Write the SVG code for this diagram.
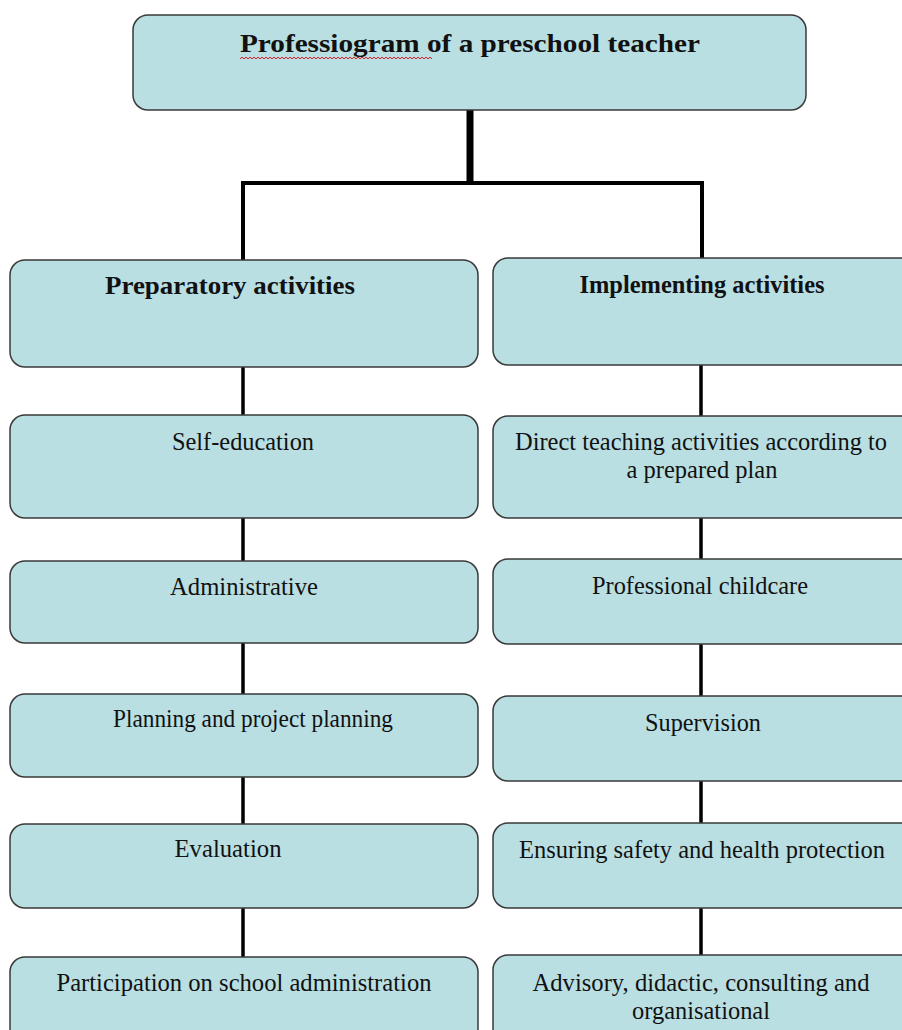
<svg xmlns="http://www.w3.org/2000/svg" width="902" height="1030" viewBox="0 0 902 1030">
<style>
.box{fill:#b9dfe3;stroke:#3a3a3a;stroke-width:1.5}
text{font-family:'Liberation Serif',Tinos,'Times New Roman',Times,serif;font-size:25.5px;fill:#111;text-anchor:middle}
.b{font-weight:bold}
.c{stroke:#000;fill:none;stroke-linecap:butt;stroke-linejoin:miter}
</style>
<rect x="0" y="0" width="902" height="1030" fill="#fff"/>
<g id="connectors">
<line class="c" x1="470" y1="110" x2="470" y2="185" stroke-width="7"/>
<polyline class="c" points="243,260 243,183 702,183 702,258" stroke-width="4"/>
<line class="c" x1="243" y1="367" x2="243" y2="415" stroke-width="3.5"/>
<line class="c" x1="243" y1="518" x2="243" y2="561" stroke-width="3.5"/>
<line class="c" x1="243" y1="643" x2="243" y2="694" stroke-width="3.5"/>
<line class="c" x1="243" y1="777" x2="243" y2="824" stroke-width="3.5"/>
<line class="c" x1="243" y1="908" x2="243" y2="957" stroke-width="3.5"/>
<line class="c" x1="701" y1="365" x2="701" y2="416" stroke-width="3.5"/>
<line class="c" x1="701" y1="518" x2="701" y2="559" stroke-width="3.5"/>
<line class="c" x1="701" y1="644" x2="701" y2="696" stroke-width="3.5"/>
<line class="c" x1="701" y1="781" x2="701" y2="823" stroke-width="3.5"/>
<line class="c" x1="701" y1="908" x2="701" y2="955" stroke-width="3.5"/>
</g>
<g id="title">
<rect class="box" x="133" y="15" width="673" height="95" rx="15"/>
<text class="b" x="470" y="52" font-size="30" textLength="460" lengthAdjust="spacingAndGlyphs">Professiogram of a preschool teacher</text>
<path d="M240,59 l2,-2 l2,2 l2,-2 l2,2 l2,-2 l2,2 l2,-2 l2,2 l2,-2 l2,2 l2,-2 l2,2 l2,-2 l2,2 l2,-2 l2,2 l2,-2 l2,2 l2,-2 l2,2 l2,-2 l2,2 l2,-2 l2,2 l2,-2 l2,2 l2,-2 l2,2 l2,-2 l2,2 l2,-2 l2,2 l2,-2 l2,2 l2,-2 l2,2 l2,-2 l2,2 l2,-2 l2,2 l2,-2 l2,2 l2,-2 l2,2 l2,-2 l2,2 l2,-2 l2,2 l2,-2 l2,2 l2,-2 l2,2 l2,-2 l2,2 l2,-2 l2,2 l2,-2 l2,2 l2,-2 l2,2 l2,-2 l2,2 l2,-2 l2,2 l2,-2 l2,2 l2,-2 l2,2 l2,-2 l2,2 l2,-2 l2,2 l2,-2 l2,2 l2,-2 l2,2 l2,-2 l2,2 l2,-2 l2,2 l2,-2 l2,2 l2,-2 l2,2 l2,-2 l2,2 l2,-2 l2,2 l2,-2 l2,2 l2,-2 l2,2 l2,-2 l2,2 l2,-2 l2,2" fill="none" stroke="#e02020" stroke-width="1"/>
</g>
<g id="preparatory">
<rect class="box" x="10" y="260" width="468" height="107" rx="15"/>
<text class="b" x="230" y="294" font-size="28" textLength="250" lengthAdjust="spacingAndGlyphs">Preparatory activities</text>
</g>
<g id="implementing">
<rect class="box" x="493" y="258" width="425" height="107" rx="15"/>
<text class="b" x="702" y="293" textLength="245" lengthAdjust="spacingAndGlyphs">Implementing activities</text>
</g>
<g id="self-education">
<rect class="box" x="10" y="415" width="468" height="103" rx="15"/>
<text x="243" y="450" textLength="142" lengthAdjust="spacingAndGlyphs">Self-education</text>
</g>
<g id="administrative">
<rect class="box" x="10" y="561" width="468" height="82" rx="15"/>
<text x="244" y="595" textLength="148" lengthAdjust="spacingAndGlyphs">Administrative</text>
</g>
<g id="planning">
<rect class="box" x="10" y="694" width="468" height="83" rx="15"/>
<text x="253" y="727" textLength="280" lengthAdjust="spacingAndGlyphs">Planning and project planning</text>
</g>
<g id="evaluation">
<rect class="box" x="10" y="824" width="468" height="84" rx="15"/>
<text x="228" y="857" textLength="107" lengthAdjust="spacingAndGlyphs">Evaluation</text>
</g>
<g id="participation">
<rect class="box" x="10" y="957" width="468" height="90" rx="15"/>
<text x="244" y="991" textLength="375" lengthAdjust="spacingAndGlyphs">Participation on school administration</text>
</g>
<g id="direct-teaching">
<rect class="box" x="493" y="416" width="425" height="102" rx="15"/>
<text x="701" y="450" textLength="372" lengthAdjust="spacingAndGlyphs">Direct teaching activities according to</text>
<text x="702" y="478" textLength="151" lengthAdjust="spacingAndGlyphs">a prepared plan</text>
</g>
<g id="childcare">
<rect class="box" x="493" y="559" width="425" height="85" rx="15"/>
<text x="700" y="594" textLength="216" lengthAdjust="spacingAndGlyphs">Professional childcare</text>
</g>
<g id="supervision">
<rect class="box" x="493" y="696" width="425" height="85" rx="15"/>
<text x="703" y="731" textLength="116" lengthAdjust="spacingAndGlyphs">Supervision</text>
</g>
<g id="safety">
<rect class="box" x="493" y="823" width="425" height="85" rx="15"/>
<text x="702" y="858" textLength="366" lengthAdjust="spacingAndGlyphs">Ensuring safety and health protection</text>
</g>
<g id="advisory">
<rect class="box" x="493" y="955" width="425" height="92" rx="15"/>
<text x="701" y="991" textLength="337" lengthAdjust="spacingAndGlyphs">Advisory, didactic, consulting and</text>
<text x="701" y="1019" textLength="138" lengthAdjust="spacingAndGlyphs">organisational</text>
</g>
</svg>
